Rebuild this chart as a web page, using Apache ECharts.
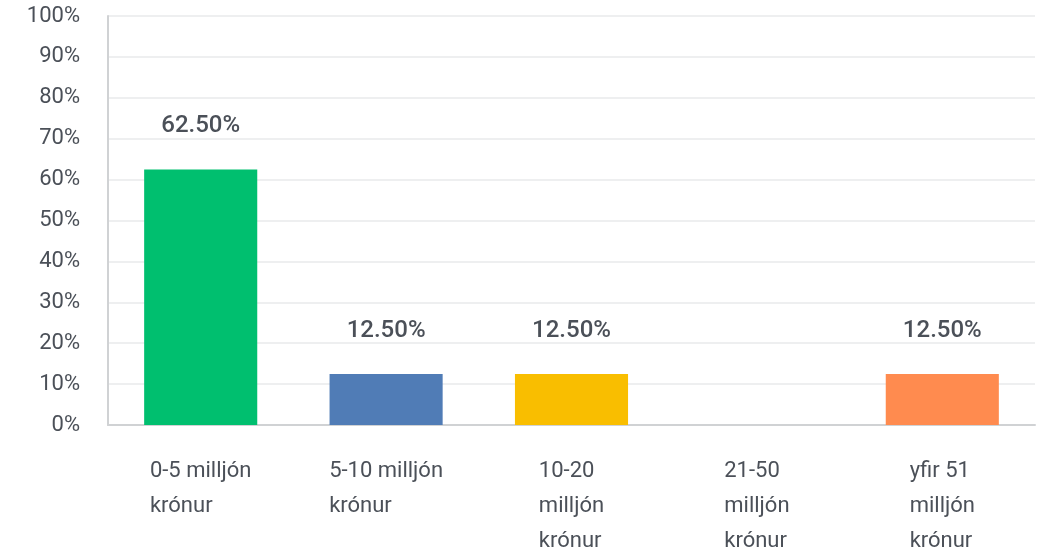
<!DOCTYPE html>
<html>
<head>
<meta charset="utf-8">
<script src="https://cdn.jsdelivr.net/npm/echarts@6/dist/echarts.min.js"></script>
<style>
  html, body { margin: 0; padding: 0; background: #fff; overflow: hidden; }
  #chart { width: 1043px; height: 559px; }
</style>
</head>
<body>
<div id="chart"></div>
<script>
// line breaks as they appear in the picture
const categories = [
  '0-5 milljón\nkrónur',
  '5-10 milljón\nkrónur',
  '10-20\nmilljón\nkrónur',
  '21-50\nmilljón\nkrónur',
  'yfir 51\nmilljón\nkrónur'
]
const values = [62.5, 12.5, 12.5, 0, 12.5]
const barColors = ['#00bf6f', '#507cb6', '#f9be00', '#ffffff', '#ff8b4f']

const textColor = '#4b5058'
const fontFamily = 'Roboto, "DejaVu Sans", sans-serif'

const chart = echarts.init(document.getElementById('chart'), null, { width: 1043, height: 559 })

chart.setOption({
  animation: false,
  textStyle: { fontFamily: fontFamily },
  grid: { left: 108, right: 8, top: 16, height: 416, containLabel: false },
  xAxis: {
    type: 'category',
    data: categories,
    axisTick: { show: false },
    axisLine: { lineStyle: { color: '#d0d2d4', width: 2 } },
    axisLabel: {
      interval: 0,
      margin: 29,
      color: textColor,
      fontSize: 22,
      lineHeight: 35,
      formatter: function (v) {
        // each line as a rich token, left-aligned inside a centred block
        return v.split('\n').map(function (s) { return '{a|' + s + '}' }).join('\n')
      },
      rich: { a: { color: textColor, fontSize: 22, lineHeight: 35, align: 'left', fontFamily: fontFamily } }
    }
  },
  yAxis: {
    type: 'value',
    min: 0,
    max: 100,
    interval: 10,
    axisLine: { show: true, lineStyle: { color: '#d0d2d4', width: 2 } },
    axisTick: { show: false },
    splitLine: { lineStyle: { color: '#e9eaeb', width: 1.5 } },
    axisLabel: {
      margin: 28,
      color: textColor,
      fontSize: 22,
      formatter: '{value}%'
    }
  },
  series: [{
    type: 'bar',
    barWidth: '61%',
    data: values.map(function (v, i) {
      return { value: v, itemStyle: { color: barColors[i] } }
    }),
    label: {
      show: true,
      position: 'top',
      distance: 31,
      color: textColor,
      fontSize: 24,
      fontWeight: 500,
      formatter: function (p) {
        return p.value > 0 ? p.value.toFixed(2) + '%' : ''
      }
    }
  }]
})
</script>
</body>
</html>
